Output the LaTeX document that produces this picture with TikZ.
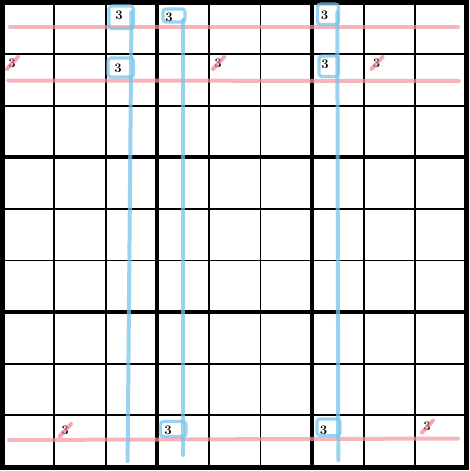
\documentclass[tikz,border=0pt]{standalone}
\usetikzlibrary{calc}
\begin{document}
\begin{tikzpicture}[x=1pt,y=-1pt,
  gridthin/.style={line width=1.7pt, black},
  gridthick/.style={line width=3.8pt, black},
  gridborder/.style={line width=5pt, black},
  redline/.style={line width=4pt, color={rgb,255:red,242;green,150;blue,160}, opacity=0.7, line cap=round},
  redslash/.style={line width=4pt, color={rgb,255:red,240;green,120;blue,135}, opacity=0.65, line cap=round},
  blueline/.style={line width=4pt, color={rgb,255:red,120;green,195;blue,235}, opacity=0.75, line cap=round},
  bluebox/.style={line width=3.2pt, color={rgb,255:red,120;green,195;blue,235}, opacity=0.75, rounded corners=3pt},
  digit/.style={font=\fontsize{13}{13}\selectfont\bfseries, inner sep=0pt}
]
\useasboundingbox (0,0) rectangle (470,471);
% grid
\foreach \k in {1,2,4,5,7,8}{
  \draw[gridthin] ({2.5+\k*51.6},2.5) -- ({2.5+\k*51.6},467);
  \draw[gridthin] (2.5,{2.5+\k*51.6}) -- (467,{2.5+\k*51.6});
}
\foreach \k in {3,6}{
  \draw[gridthick] ({2.5+\k*51.6},2.5) -- ({2.5+\k*51.6},467);
  \draw[gridthick] (2.5,{2.5+\k*51.6}) -- (467,{2.5+\k*51.6});
}
\draw[gridborder] (2.5,2.5) rectangle (466.5,467.5);
% red row lines
\coordinate (ra1) at (10,27);   \coordinate (rb1) at (458,27);
\coordinate (ra2) at (8,80.5);  \coordinate (rb2) at (459,81);
\coordinate (ra9) at (9,440);   \coordinate (rb9) at (458,438.5);
\draw[redline] (ra1) -- (rb1);
\draw[redline] (ra2) -- (rb2);
\draw[redline] (ra9) -- (rb9);
% blue column lines
\coordinate (ba3) at (131.5,12); \coordinate (bb3) at (127.6,461);
\coordinate (ba4) at (183,20);   \coordinate (bb4) at (183,455);
\coordinate (ba7) at (337.3,12); \coordinate (bb7) at (338.3,460);
\draw[blueline] (ba3) -- (bb3);
\draw[blueline] (ba4) -- (bb4);
\draw[blueline] (ba7) -- (bb7);
% blue boxes
\draw[bluebox] (109,6) rectangle (133.5,28.5);
\draw[bluebox] (108,58) rectangle (133.5,77);
\draw[bluebox] (163,9) rectangle (185,22);
\draw[bluebox] (317.5,4) rectangle (338.5,24.5);
\draw[bluebox] (319,56) rectangle (338.5,76.5);
\draw[bluebox] (160.5,421.5) rectangle (186,436.5);
\draw[bluebox] (317,419) rectangle (340,435.5);
% boxed digits
\node[digit] (d13) at (119,15) {3};
\node[digit] (d23) at (118,68) {3};
\node[digit] (d14) at (169,17.5) {3};
\node[digit] (d17) at (324.5,15) {3};
\node[digit] (d27) at (325,64) {3};
\node[digit] (d94) at (168,430.5) {3};
\node[digit] (d97) at (323.5,430) {3};
% crossed-out digits
\node[digit] (x21) at (12,63) {3};
\node[digit] (x25) at (218,63) {3};
\node[digit] (x28) at (376.5,63) {3};
\node[digit] (x92) at (65,430) {3};
\node[digit] (x99) at (427,426.5) {3};
\foreach \n in {x21,x25,x28,x92,x99}{
  \draw[redslash] ($(\n)+(-5,6)$) -- ($(\n)+(6,-6)$);
}
\end{tikzpicture}
\end{document}
